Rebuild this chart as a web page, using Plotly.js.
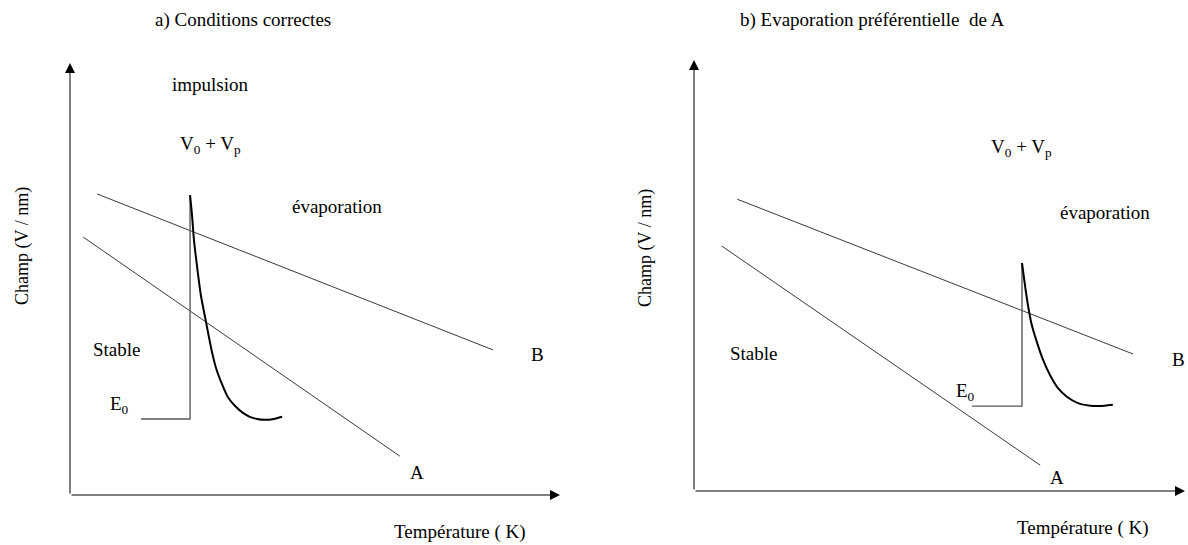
<!DOCTYPE html>
<html>
<head>
<meta charset="utf-8">
<script src="https://cdn.plot.ly/plotly-3.0.1.min.js"></script>
<style>html,body{margin:0;padding:0;background:#fff;}#chart{width:1188px;height:545px;}</style>
</head>
<body>
<div id="chart"></div>
<script>
// ---------- Data (schematic units: temperature T, field E, 0..10 per panel) ----------
// Panel a) Conditions correctes
const a_lineB_T = [0.55, 8.63];
const a_lineB_E = [6.97, 3.36];
const a_lineA_T = [0.27, 6.73];
const a_lineA_E = [5.97, 0.90];
const a_step_T = [1.45, 2.45, 2.45];
const a_step_E = [1.76, 1.76, 6.94];
const a_pulse_T = [2.45, 2.49, 2.53, 2.59, 2.67, 2.78, 2.88, 2.98, 3.10, 3.22, 3.37, 3.53, 3.67, 3.82, 3.98, 4.16, 4.33];
const a_pulse_E = [6.94, 6.48, 5.90, 5.32, 4.63, 3.98, 3.40, 2.94, 2.57, 2.27, 2.06, 1.90, 1.81, 1.76, 1.74, 1.76, 1.81];

// Panel b) Evaporation préférentielle de A
const b_lineB_T = [0.88, 8.94];
const b_lineB_E = [6.77, 3.18];
const b_lineA_T = [0.57, 7.05];
const b_lineA_E = [5.68, 0.60];
const b_step_T = [5.66, 6.68, 6.68];
const b_step_E = [1.97, 1.97, 5.29];
const b_pulse_T = [6.68, 6.74, 6.80, 6.88, 6.99, 7.11, 7.25, 7.41, 7.60, 7.82, 8.07, 8.27, 8.53];
const b_pulse_E = [5.29, 4.78, 4.32, 3.85, 3.43, 3.04, 2.69, 2.39, 2.18, 2.04, 1.98, 1.97, 2.00];

// Labels
const a_labels = ["impulsion", "V<sub>0</sub> + V<sub>p</sub>", "évaporation", "Stable", "E<sub>0</sub>", "B", "A"];
const a_label_T = [2.86, 2.86, 5.45, 0.96, 1.02, 9.55, 7.08];
const a_label_E = [9.51, 8.10, 6.67, 3.36, 2.08, 3.26, 0.53];
const b_labels = ["V<sub>0</sub> + V<sub>p</sub>", "évaporation", "Stable", "E<sub>0</sub>", "B", "A"];
const b_label_T = [6.66, 8.37, 1.22, 5.52, 9.86, 7.39];
const b_label_E = [7.96, 6.47, 3.18, 2.30, 3.04, 0.32];

const panelTitles = ["a) Conditions correctes", "b) Evaporation préférentielle  de A"];
const yTitle = "Champ (V / nm)";
const xTitle = "Température ( K)";
const axisMax = 10;

// ---------- Styles ----------
const FONT = '"Liberation Serif", "Times New Roman", Times, serif';
const thin = {color: "#3a3a3a", width: 1};
const stepStyle = {color: "#5a5a5a", width: 1.4};
const curveStyle = {color: "#000000", width: 2, shape: "spline", smoothing: 0.6};

function tr(x, y, line, xa, ya) {
  return {x: x, y: y, mode: "lines", line: line, xaxis: xa, yaxis: ya, hoverinfo: "skip", showlegend: false};
}

const traces = [
  tr(a_lineB_T, a_lineB_E, thin, "x", "y"),
  tr(a_lineA_T, a_lineA_E, thin, "x", "y"),
  tr(a_step_T, a_step_E, stepStyle, "x", "y"),
  tr(a_pulse_T, a_pulse_E, curveStyle, "x", "y"),
  tr(b_lineB_T, b_lineB_E, thin, "x2", "y2"),
  tr(b_lineA_T, b_lineA_E, thin, "x2", "y2"),
  tr(b_step_T, b_step_E, stepStyle, "x2", "y2"),
  tr(b_pulse_T, b_pulse_E, curveStyle, "x2", "y2")
];

const W = 1188, H = 545;
const px = v => v / W;
const py = v => 1 - v / H;

const annotations = [];
function arrow(xr, yr, x, y, ax, ay) {
  annotations.push({xref: xr, yref: yr, axref: xr, ayref: yr, x: x, y: y, ax: ax, ay: ay,
    text: "", showarrow: true, arrowhead: 2, arrowsize: 2, arrowwidth: 1, arrowcolor: "#000"});
}
arrow("x", "y", 0, axisMax, 0, 0);
arrow("x", "y", axisMax, 0, 0, 0);
arrow("x2", "y2", 0, axisMax, 0, 0);
arrow("x2", "y2", axisMax, 0, 0, 0);

function label(xr, yr, x, y, t, size, angle) {
  annotations.push({xref: xr, yref: yr, x: x, y: y, text: t, showarrow: false,
    xanchor: "center", yanchor: "middle", textangle: angle || 0,
    font: {family: FONT, size: size, color: "#000"}});
}
a_labels.forEach((t, i) => label("x", "y", a_label_T[i], a_label_E[i], t, 19));
b_labels.forEach((t, i) => label("x2", "y2", b_label_T[i], b_label_E[i], t, 19));

label("paper", "paper", px(243), py(20), panelTitles[0], 19);
label("paper", "paper", px(872), py(20), panelTitles[1], 19);
label("paper", "paper", px(22), py(246), yTitle, 18, -90);
label("paper", "paper", px(645), py(248), yTitle, 18, -90);
label("paper", "paper", px(460), py(532), xTitle, 19);
label("paper", "paper", px(1083), py(528), xTitle, 19);

const hidden = {range: [0, axisMax], showgrid: false, zeroline: false, showline: false,
  showticklabels: false, ticks: "", fixedrange: true};

const layout = {
  width: W, height: H,
  margin: {l: 0, r: 0, t: 0, b: 0},
  paper_bgcolor: "#fff", plot_bgcolor: "rgba(0,0,0,0)",
  font: {family: FONT, size: 19, color: "#000"},
  showlegend: false,
  xaxis: Object.assign({}, hidden, {domain: [px(70), px(560)], anchor: "y"}),
  yaxis: Object.assign({}, hidden, {domain: [py(495), py(63)], anchor: "x"}),
  xaxis2: Object.assign({}, hidden, {domain: [px(694), px(1185)], anchor: "y2"}),
  yaxis2: Object.assign({}, hidden, {domain: [py(491), py(60)], anchor: "x2"}),
  annotations: annotations
};

Plotly.newPlot("chart", traces, layout, {staticPlot: true, displayModeBar: false});
</script>
</body>
</html>
